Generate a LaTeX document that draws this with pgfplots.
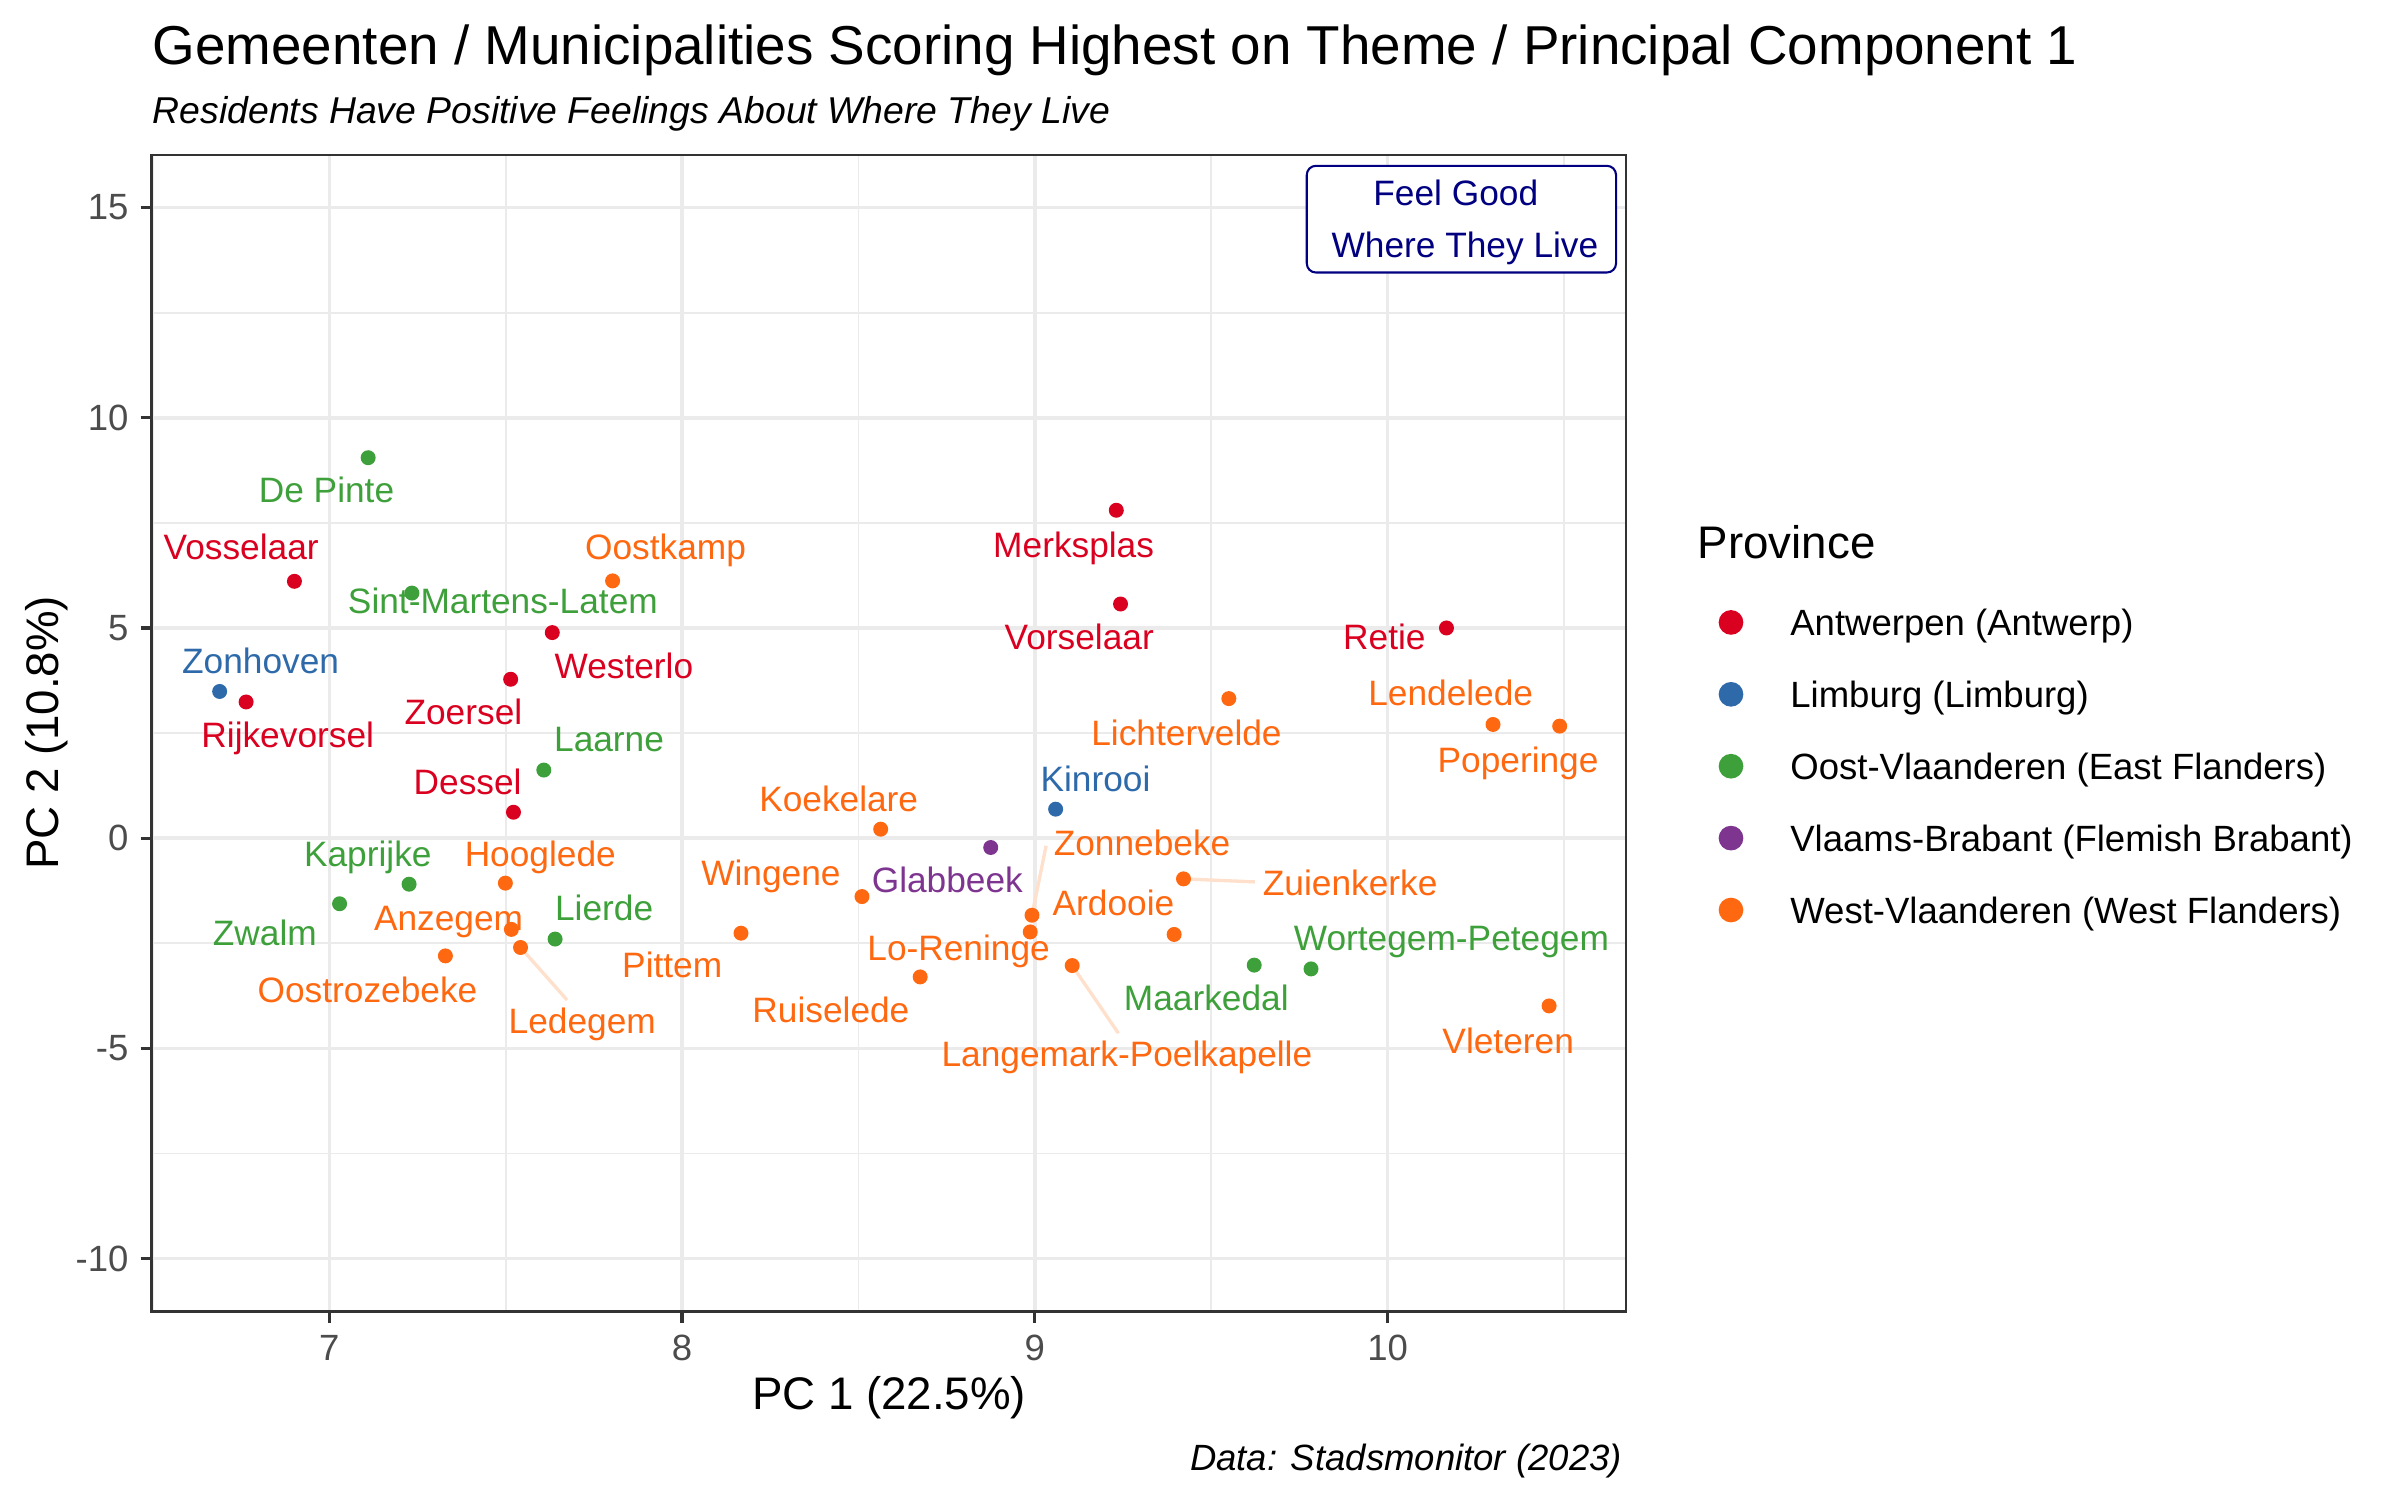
\documentclass[border=0pt]{standalone}
\usepackage{fontspec}
\setmainfont{Liberation Sans}
\usepackage{pgfplots}
\usepackage{pgfplotstable}
\pgfplotsset{compat=1.18}

\definecolor{antw}{RGB}{218,0,32}
\definecolor{limb}{RGB}{46,106,170}
\definecolor{oostvl}{RGB}{62,160,58}
\definecolor{vlbr}{RGB}{126,53,144}
\definecolor{westvl}{RGB}{254,104,16}
\definecolor{grid92}{gray}{0.92}
\definecolor{gray20}{gray}{0.2}
\definecolor{gray30}{gray}{0.3}
\definecolor{segcol}{RGB}{255,224,204}
\definecolor{navyblue}{RGB}{0,0,128}

% PC scores per province
\pgfplotstableread[col sep=comma]{
name,x,y
Vosselaar,6.901,6.11
Westerlo,7.632,4.89
Rijkevorsel,6.764,3.24
Zoersel,7.514,3.78
Dessel,7.522,0.617
Merksplas,9.231,7.80
Vorselaar,9.243,5.57
Retie,10.167,5.00
}\antwerpen
\pgfplotstableread[col sep=comma]{
name,x,y
Zonhoven,6.689,3.49
Kinrooi,9.059,0.69
}\limburg
\pgfplotstableread[col sep=comma]{
name,x,y
De Pinte,7.110,9.05
Sint-Martens-Latem,7.234,5.83
Laarne,7.608,1.62
Kaprijke,7.226,-1.095
Zwalm,7.029,-1.56
Lierde,7.640,-2.40
Maarkedal,9.622,-3.02
Wortegem-Petegem,9.783,-3.11
}\oostvlaanderen
\pgfplotstableread[col sep=comma]{
name,x,y
Glabbeek,8.875,-0.222
}\vlaamsbrabant
\pgfplotstableread[col sep=comma]{
name,x,y
Oostkamp,7.803,6.12
Hooglede,7.499,-1.07
Anzegem,7.516,-2.17
Ledegem,7.542,-2.60
Oostrozebeke,7.329,-2.80
Pittem,8.167,-2.26
Wingene,8.510,-1.389
Koekelare,8.563,0.214
Ruiselede,8.675,-3.30
Zonnebeke,8.992,-1.833
Lo-Reninge,8.987,-2.23
Langemark-Poelkapelle,9.106,-3.03
Ardooie,9.395,-2.29
Zuienkerke,9.4215,-0.968
Lichtervelde,9.55,3.32
Lendelede,10.299,2.705
Poperinge,10.488,2.666
Vleteren,10.458,-3.99
}\westvlaanderen

\tikzset{lab/.style={font=\fontsize{8.5}{10}\selectfont, inner sep=0pt, text height=6.1pt, text depth=0pt, anchor=center}}

\begin{document}
\begin{tikzpicture}
\path[use as bounding box] (0,0) rectangle (578.16pt,361.35pt);
\begin{axis}[
  at={(36.6pt,45.5pt)}, anchor=south west,
  scale only axis, width=355.1pt, height=278.5pt,
  xmin=6.497, xmax=10.676, ymin=-11.25, ymax=16.25,
  xtick={7,8,9,10}, xticklabels={7,8,9,10},
  ytick={-10,-5,0,5,10,15}, yticklabels={-10,-5,0,5,10,15},
  minor xtick={6.5,7.5,8.5,9.5,10.5},
  minor ytick={-7.5,-2.5,2.5,7.5,12.5},
  xtick pos=bottom, ytick pos=left,
  tick align=outside, major tick length=2.75pt, minor tick length=0pt,
  tick style={gray20, line width=0.8pt},
  grid=both,
  major grid style={grid92, line width=0.85pt},
  minor grid style={grid92, line width=0.45pt},
  axis line style={gray20, line width=0.7pt},
  ticklabel style={font=\fontsize{8.8}{10}\selectfont, text=gray30, inner sep=0pt},
  xticklabel style={yshift=-2.8pt},
  yticklabel style={xshift=-2.7pt},
  legend style={at={(1.0594,0.6108)}, anchor=north west, draw=none, fill=none,
    inner sep=0pt, row sep=9.32pt, column sep=10.3pt,
    font=\fontsize{8.8}{10}\selectfont,
    nodes={inner sep=0pt, text height=7.2pt, text depth=0.8pt}},
  legend cell align=left,
  legend image code/.code={\path[draw=none, fill=none] (0pt,-2.77pt) rectangle (8pt,2.77pt);
    \draw[#1, mark size=2.77pt] plot coordinates {(4pt,0pt)};},
]
% repel segments
\addplot[segcol, line width=0.8pt, forget plot] coordinates {(7.542,-2.60) (7.674,-3.85)};
\addplot[segcol, line width=0.8pt, forget plot] coordinates {(8.992,-1.833) (9.032,-0.18)};
\addplot[segcol, line width=0.8pt, forget plot] coordinates {(9.4215,-0.968) (9.624,-1.04)};
\addplot[segcol, line width=0.8pt, forget plot] coordinates {(9.106,-3.03) (9.237,-4.64)};

\addplot[only marks, mark=*, mark size=1.6pt, color=antw] table[x=x, y=y] {\antwerpen};
\addlegendentry{Antwerpen (Antwerp)}
\addplot[only marks, mark=*, mark size=1.6pt, color=limb] table[x=x, y=y] {\limburg};
\addlegendentry{Limburg (Limburg)}
\addplot[only marks, mark=*, mark size=1.6pt, color=oostvl] table[x=x, y=y] {\oostvlaanderen};
\addlegendentry{Oost-Vlaanderen (East Flanders)}
\addplot[only marks, mark=*, mark size=1.6pt, color=vlbr] table[x=x, y=y] {\vlaamsbrabant};
\addlegendentry{Vlaams-Brabant (Flemish Brabant)}
\addplot[only marks, mark=*, mark size=1.6pt, color=westvl] table[x=x, y=y] {\westvlaanderen};
\addlegendentry{West-Vlaanderen (West Flanders)}

% labels
\node[lab, text=antw] at (axis cs:6.750,6.94) {Vosselaar};
\node[lab, text=antw] at (axis cs:7.835,4.10) {Westerlo};
\node[lab, text=antw] at (axis cs:6.882,2.45) {Rijkevorsel};
\node[lab, text=antw] at (axis cs:7.380,3.00) {Zoersel};
\node[lab, text=antw] at (axis cs:7.392,1.35) {Dessel};
\node[lab, text=antw] at (axis cs:9.110,6.973) {Merksplas};
\node[lab, text=antw] at (axis cs:9.126,4.795) {Vorselaar};
\node[lab, text=antw] at (axis cs:9.991,4.795) {Retie};
\node[lab, text=limb] at (axis cs:6.805,4.22) {Zonhoven};
\node[lab, text=limb] at (axis cs:9.172,1.405) {Kinrooi};
\node[lab, text=oostvl] at (axis cs:6.992,8.277) {De Pinte};
\node[lab, text=oostvl] at (axis cs:7.492,5.644) {Sint-Martens-Latem};
\node[lab, text=oostvl] at (axis cs:7.793,2.36) {Laarne};
\node[lab, text=oostvl] at (axis cs:7.109,-0.373) {Kaprijke};
\node[lab, text=oostvl] at (axis cs:6.817,-2.26) {Zwalm};
\node[lab, text=oostvl] at (axis cs:7.779,-1.667) {Lierde};
\node[lab, text=oostvl] at (axis cs:9.486,-3.794) {Maarkedal};
\node[lab, text=oostvl] at (axis cs:10.181,-2.38) {Wortegem-Petegem};
\node[lab, text=vlbr] at (axis cs:8.752,-0.992) {Glabbeek};
\node[lab, text=westvl] at (axis cs:7.953,6.94) {Oostkamp};
\node[lab, text=westvl] at (axis cs:7.598,-0.373) {Hooglede};
\node[lab, text=westvl] at (axis cs:7.338,-1.897) {Anzegem};
\node[lab, text=westvl] at (axis cs:7.717,-4.34) {Ledegem};
\node[lab, text=westvl] at (axis cs:7.108,-3.61) {Oostrozebeke};
\node[lab, text=westvl] at (axis cs:7.972,-3.02) {Pittem};
\node[lab, text=westvl] at (axis cs:8.252,-0.817) {Wingene};
\node[lab, text=westvl] at (axis cs:8.444,0.937) {Koekelare};
\node[lab, text=westvl] at (axis cs:8.422,-4.087) {Ruiselede};
\node[lab, text=westvl] at (axis cs:9.304,-0.103) {Zonnebeke};
\node[lab, text=westvl] at (axis cs:8.784,-2.611) {Lo-Reninge};
\node[lab, text=westvl] at (axis cs:9.261,-5.119) {Langemark-Poelkapelle};
\node[lab, text=westvl] at (axis cs:9.223,-1.548) {Ardooie};
\node[lab, text=westvl] at (axis cs:9.894,-1.071) {Zuienkerke};
\node[lab, text=westvl] at (axis cs:9.430,2.516) {Lichtervelde};
\node[lab, text=westvl] at (axis cs:10.179,3.461) {Lendelede};
\node[lab, text=westvl] at (axis cs:10.370,1.866) {Poperinge};
\node[lab, text=westvl] at (axis cs:10.342,-4.817) {Vleteren};
\end{axis}

% titles and annotations
\node[anchor=base west, inner sep=0pt, font=\fontsize{13.2}{15}\selectfont] at (36.6pt,345.7pt)
  {Gemeenten / Municipalities Scoring Highest on Theme / Principal Component 1};
\node[anchor=base west, inner sep=0pt, font=\fontsize{9}{11}\selectfont\itshape] at (36.6pt,331.6pt)
  {Residents Have Positive Feelings About Where They Live};
\node[anchor=base, inner sep=0pt, font=\fontsize{11}{13}\selectfont] at (214.2pt,21.7pt) {PC 1 (22.5\%)};
\node[anchor=base, rotate=90, inner sep=0pt, font=\fontsize{11}{13}\selectfont] at (14.0pt,184.8pt) {PC 2 (10.8\%)};
\node[anchor=base east, inner sep=0pt, font=\fontsize{8.8}{10}\selectfont\itshape] at (390.9pt,7.2pt) {Data: Stadsmonitor (2023)};
\node[anchor=base west, inner sep=0pt, font=\fontsize{11}{13}\selectfont] at (408.8pt,226.9pt) {Province};

\draw[navyblue, line width=0.5pt, fill=white, rounded corners=2.2pt] (314.8pt,321.4pt) rectangle (389.3pt,295.7pt);
\node[anchor=base, inner sep=0pt, text=navyblue, font=\fontsize{8.5}{10}\selectfont] at (350.7pt,311.8pt) {Feel Good};
\node[anchor=base, inner sep=0pt, text=navyblue, font=\fontsize{8.5}{10}\selectfont] at (352.9pt,299.4pt) {Where They Live};
\end{tikzpicture}
\end{document}
